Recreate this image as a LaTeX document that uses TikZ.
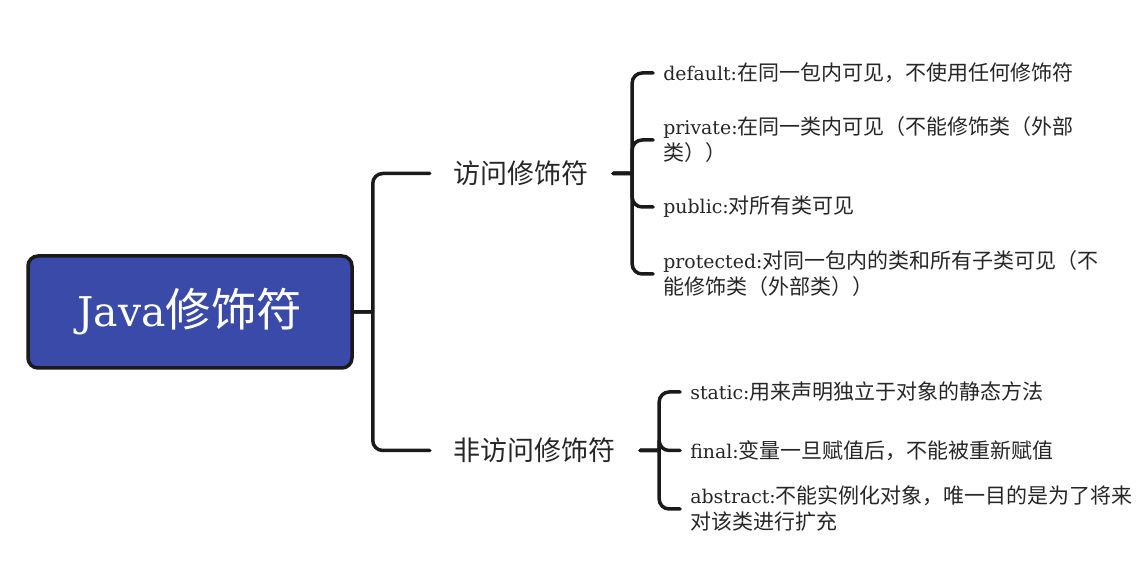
\documentclass[tikz,border=0pt]{standalone}
\usepackage{fontspec}
\setmainfont{DejaVu Serif}[Scale=0.9]
\newfontfamily\zh{Noto Sans CJK SC}
\definecolor{rootblue}{HTML}{3A4AA9}
\definecolor{linedark}{HTML}{1A1A1A}
\definecolor{textdark}{HTML}{262626}
\begin{document}
\begin{tikzpicture}[
    grow'=right,
    growth parent anchor=east,
    level 1/.style={level distance=76pt, sibling distance=277pt},
    level 2/.style={level distance=40pt, sibling distance=67pt},
    every child node/.style={anchor=west},
    edge from parent/.style={draw=linedark, line width=3.5pt, line cap=round, rounded corners=10pt},
    edge from parent path={(\tikzparentnode.east) -- ++(19pt,0) ++(0,0) |- (\tikzchildnode.west)},
    rootbox/.style={draw=linedark, line width=3.5pt, fill=rootblue, rounded corners=10pt,
        minimum width=324pt, minimum height=112pt, text=white, font=\fontsize{45.5}{50}\selectfont},
    groupnode/.style={inner xsep=24pt, text=textdark, font=\fontsize{27}{32}\selectfont},
    leafnode/.style={inner xsep=10pt, align=left, text=textdark, font=\fontsize{21}{26}\selectfont}
]
\useasboundingbox (0,0) rectangle (1148pt,561pt);
\node[rootbox] (java) at (190pt,249pt) {Java{\zh 修饰符}}
    child {node[groupnode] (access) {\zh 访问修饰符}
        child {node[leafnode] (default) {default:{\zh 在同一包内可见，不使用任何修饰符}}}
        child {node[leafnode] (private) {private:{\zh 在同一类内可见（不能修饰类（外部}\\{\zh 类））}}}
        child {node[leafnode] (public) {public:{\zh 对所有类可见}}}
        child {node[leafnode] (protected) {protected:{\zh 对同一包内的类和所有子类可见（不}\\{\zh 能修饰类（外部类））}}}
    }
    child {node[groupnode] (nonaccess) {\zh 非访问修饰符}
        child[sibling distance=58.5pt] {node[leafnode] (static) {static:{\zh 用来声明独立于对象的静态方法}}}
        child[sibling distance=58.5pt] {node[leafnode] (final) {final:{\zh 变量一旦赋值后，不能被重新赋值}}}
        child[sibling distance=58.5pt] {node[leafnode] (abstract) {abstract:{\zh 不能实例化对象，唯一目的是为了将来}\\{\zh 对该类进行扩充}}}
    };
\end{tikzpicture}
\end{document}
